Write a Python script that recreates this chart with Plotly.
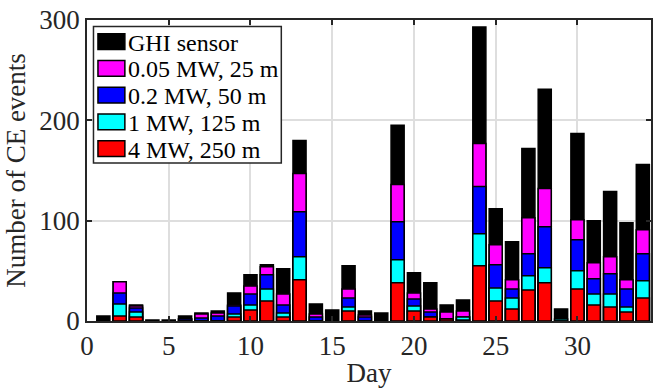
import plotly.graph_objects as go

days = list(range(1, 35))
ghi = [5, 39, 16, 1, 1, 5, 8, 10, 28, 46, 56, 52, 180, 17, 11, 55, 10, 8, 195, 48, 38, 16, 21, 293,
       112, 79, 172, 231, 12, 187, 100, 129, 98, 156]
mw005 = [0, 39, 15, 0, 0, 2, 7, 8, 16, 35, 54, 27, 147, 7, 0, 32, 6, 0, 136, 28, 12, 9, 10, 177,
         76, 41, 103, 132, 0, 101, 58, 64, 41, 91]
mw02 = [0, 28, 13, 0, 0, 2, 3, 5, 15, 27, 46, 16, 109, 4, 0, 23, 4, 0, 99, 22, 9, 2, 4, 134,
        56, 32, 67, 94, 0, 81, 42, 47, 32, 67]
mw1 = [0, 17, 9, 0, 0, 0, 0, 0, 7, 16, 32, 8, 64, 0, 0, 14, 0, 0, 61, 15, 4, 2, 4, 87,
       33, 23, 45, 53, 2, 50, 27, 27, 14, 40]
mw4 = [0, 5, 4, 0, 0, 0, 0, 0, 4, 11, 20, 4, 41, 0, 0, 10, 0, 0, 38, 10, 4, 2, 1, 55,
       20, 12, 31, 38, 0, 32, 16, 14, 9, 23]

names = ["GHI sensor", "0.05 MW, 25 m", "0.2 MW, 50 m", "1 MW, 125 m", "4 MW, 250 m"]
colors = ["#000000", "#FF00FF", "#0000FF", "#00FFFF", "#FF0000"]
values = [ghi, mw005, mw02, mw1, mw4]

fig = go.Figure()
for name, vals, col in zip(names, values, colors):
    fig.add_trace(go.Bar(
        x=days, y=vals, name=name, width=0.8, showlegend=False,
        marker=dict(color=col, line=dict(color="#000000", width=1.5)),
    ))

font = "Liberation Serif, Times New Roman, serif"

# plot area in pixels (for legend box placement in paper coords)
L, R, T, B = 87, 653, 15, 321
def px(x):
    return (x - L) / (R - L)
def py(y):
    return (B - y) / (B - T)

shapes = [dict(type="rect", xref="paper", yref="paper",
               x0=px(93.5), x1=px(282), y0=py(160.5), y1=py(21.5),
               line=dict(color="#262626", width=1.5), fillcolor="white", layer="above")]
annotations = []
for i, (name, col) in enumerate(zip(names, colors)):
    cy = 37 + 27.2 * i
    shapes.append(dict(type="rect", xref="paper", yref="paper",
                       x0=px(98), x1=px(125), y0=py(cy + 8), y1=py(cy - 8),
                       line=dict(color="#000000", width=1.5), fillcolor=col, layer="above"))
    annotations.append(dict(xref="paper", yref="paper", x=px(126), y=py(cy + 1),
                            xanchor="left", yanchor="middle", text=name, showarrow=False,
                            font=dict(family=font, size=24, color="#000000")))

axis_common = dict(
    showline=True, linecolor="#262626", linewidth=1.5, mirror="ticks",
    ticks="inside", ticklen=5, tickwidth=1.5, tickcolor="#262626",
    showgrid=True, gridcolor="#dedede", gridwidth=1.5, zeroline=False,
    tickfont=dict(family=font, size=27, color="#262626"),
)
fig.update_layout(
    width=658, height=392,
    margin=dict(l=L, r=658 - R, t=T, b=392 - B),
    barmode="overlay",
    plot_bgcolor="white", paper_bgcolor="white",
    font=dict(family=font, color="#000000"),
    xaxis=dict(range=[0, 34.5], tickvals=[0, 5, 10, 15, 20, 25, 30],
               title=dict(text="Day", font=dict(family=font, size=27, color="#262626"), standoff=3),
               **axis_common),
    yaxis=dict(range=[0, 300], tickvals=[0, 100, 200, 300],
               title=dict(text="Number of CE events", font=dict(family=font, size=27, color="#262626"), standoff=6),
               **axis_common),
    shapes=shapes,
    annotations=annotations,
    showlegend=False,
)
fig.write_html("out.html")
